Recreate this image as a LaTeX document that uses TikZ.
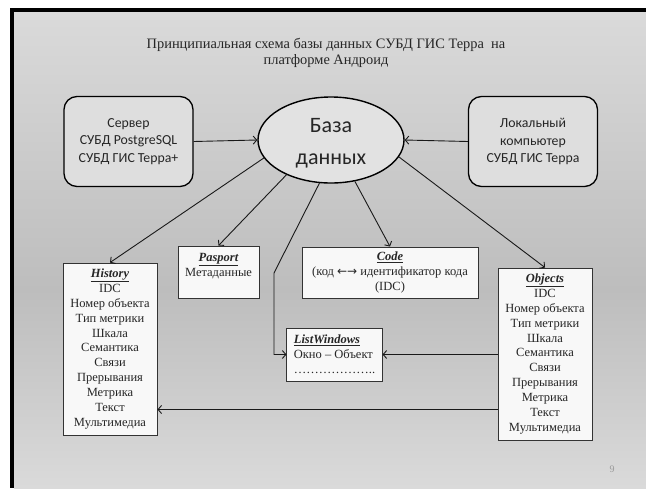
\documentclass[tikz,border=0pt]{standalone}
\usepackage{fontspec}
\setmainfont{Liberation Serif}
\newfontfamily\calib{Carlito}
\newfontfamily\dejavu{DejaVu Sans}
\usetikzlibrary{arrows.meta,shapes.geometric}
\definecolor{bgA}{HTML}{DADADA}
\definecolor{bgB}{HTML}{BDBDBD}
\definecolor{rfill}{HTML}{DEDEDE}
\definecolor{efill}{HTML}{E2E2E2}
\definecolor{sfill}{HTML}{F8F8F8}
\definecolor{pnum}{HTML}{9A9A9A}
\tikzset{
  rbox/.style={draw=black, line width=1.3pt, rounded corners=13pt, fill=rfill,
    minimum width=129pt, minimum height=90pt, inner sep=0pt, align=center,
    font=\calib\fontsize{13.8}{17.5}\selectfont, text=black!85},
  dbell/.style={ellipse, draw=black, line width=1.4pt, fill=efill, minimum width=146pt,
    minimum height=86pt, inner sep=0pt},
  dbtxt/.style={align=center, inner sep=0pt, font=\calib\fontsize{22}{32}\selectfont, text=black!85},
  sbox/.style={draw=black!80, line width=0.9pt, fill=sfill, inner sep=0pt, align=center,
    font=\fontsize{12.5}{14.9}\selectfont, text=black!85},
  conn/.style={line width=0.9pt, draw=black!90, -{Straight Barb[length=3.5pt,width=8pt]}},
  titletext/.style={align=center, font=\fontsize{14.4}{16}\selectfont, text=black!85},
}
\newcommand{\hdr}[1]{\textbf{\textit{\underline{#1}}}}
\begin{document}
\begin{tikzpicture}[x=1pt,y=-1pt]
\useasboundingbox (0,0) rectangle (646,488);
\fill[white] (0,0) rectangle (646,488);
\shade[top color=bgA, bottom color=bgB] (14,12) rectangle (646,290);
\shade[top color=bgB, bottom color=bgA] (14,289.5) rectangle (646,488);
\fill[black] (10,8) rectangle (646,12);
\fill[black] (10,8) rectangle (14,488);

\node[titletext] (title) at (326,52.5) {Принципиальная схема базы данных СУБД ГИС Терра~ на\\платформе Андроид};

\node[rbox] (srv) at (128.5,141.5) {Сервер\\СУБД PostgreSQL\\СУБД ГИС Терра+};
\node[rbox] (loc) at (533,141.5) {Локальный\\компьютер\\СУБД ГИС Терра};
\node[dbell] (db) at (331,140) {};
\node[dbtxt] (dbt) at (331,143) {База\\данных};

\node[sbox, minimum width=94pt, minimum height=172pt] (hist) at (110,349)
 {\hdr{History}\\IDC\\Номер объекта\\Тип метрики\\Шкала\\Семантика\\Связи\\Прерывания\\Метрика\\Текст\\Мультимедиа};
\node[sbox, minimum width=94pt, minimum height=172pt] (obj) at (545,354)
 {\hdr{Objects}\\IDC\\Номер объекта\\Тип метрики\\Шкала\\Семантика\\Связи\\Прерывания\\Метрика\\Текст\\Мультимедиа};
\node[sbox, minimum width=81pt, minimum height=52pt] (pas) at (218.5,272)
 {\hdr{Pasport}\\Метаданные\\\phantom{Х}};
\node[sbox, minimum width=176pt, minimum height=51pt] (code) at (390,272.5)
 {\hdr{Code}\\(код {\dejavu\fontsize{12}{14.9}\selectfont ←→} идентификатор кода\\(IDC)};
\node[sbox, minimum width=93pt, minimum height=53pt, align=left, inner xsep=7pt] (lw) at (334.5,354.5)
 {\hdr{ListWindows}\\Окно – Объект\\………………..};

\node[font=\fontsize{10}{12}\selectfont, text=pnum] (pg) at (612,469) {9};

\coordinate (lwbend) at (274,273);
\coordinate (hy) at (0,409.5);

\draw[conn] (srv.east) -- (db.west);
\draw[conn] (loc.west) -- (db.east);
\draw[conn] (db.195) -- (hist.north);
\draw[conn] (db.218) -- (pas.north);
\draw[conn] (db.255) -- (lwbend) |- (lw.west);
\draw[conn] (db.300) -- (code.north);
\draw[conn] (db.346) -- (obj.north);
\draw[conn] (lw.east -| obj.west) -- (lw.east);
\draw[conn] (obj.west |- hy) -- (hist.east |- hy);
\end{tikzpicture}
\end{document}
